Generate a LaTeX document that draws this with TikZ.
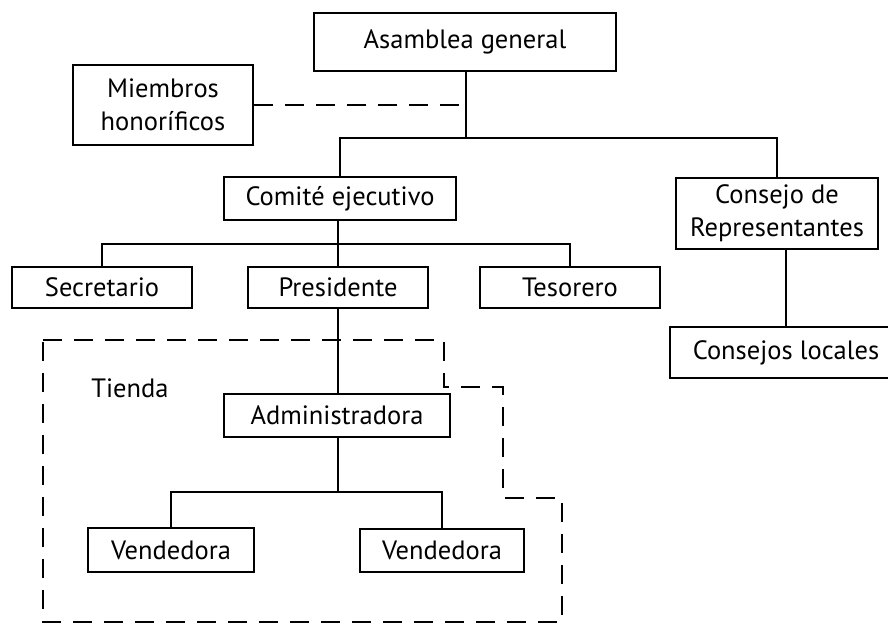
\documentclass[tikz,border=0pt]{standalone}
\usepackage{fontspec}
\setmainfont{PT Sans}
\begin{document}
\begin{tikzpicture}[x=1pt,y=-1pt,
  txt/.style={font=\fontsize{26.5}{33}\selectfont},
  box/.style={draw, line width=2.6pt, rectangle, inner sep=0pt, align=center, txt},
  conn/.style={line width=2.2pt},
  dashconn/.style={line width=2.2pt, dash pattern=on 19pt off 12pt}]
\useasboundingbox (0,0) rectangle (888,624);
\node[box, minimum width=232pt, minimum height=43pt] (com) at (340,198.5) {Comité ejecutivo};
\node[box, minimum width=302pt, minimum height=58pt] (asm) at (465,42) {Asamblea general};
\node[box, minimum width=180pt, minimum height=80pt] (miem) at (163,105) {Miembros\\honoríficos};
\node[box, minimum width=202pt, minimum height=71pt] (cons) at (777,213.5) {Consejo de\\Representantes};
\node[box, minimum width=180pt, minimum height=41pt] (sec) at (102,287.5) {Secretario};
\node[box, minimum width=180pt, minimum height=41pt] (pres) at (338,287.5) {Presidente};
\node[box, minimum width=180pt, minimum height=41pt] (tes) at (570,287.5) {Tesorero};
\node[box, minimum width=232pt, minimum height=51pt] (loc) at (786,352.5) {Consejos locales};
\node[box, minimum width=226pt, minimum height=43pt] (adm) at (337,415.5) {Administradora};
\node[box, minimum width=166pt, minimum height=44pt] (v1) at (171,550) {Vendedora};
\node[box, minimum width=164pt, minimum height=43pt] (v2) at (442,550.5) {Vendedora};
\node[txt, inner sep=0pt] (tienda) at (130,388) {Tienda};

\coordinate (j1) at (466,138);
\coordinate (j2) at (338,244);
\coordinate (j3) at (338,492);

\draw[conn] (asm.south -| j1) -- (j1);
\draw[conn] (com.north) |- (j1) -| (cons.north);
\draw[dashconn] (miem.east) -- (miem.east -| j1);
\draw[conn] (com.south -| j2) -- (j2);
\draw[conn] (sec.north) |- (j2) -| (tes.north);
\draw[conn] (j2) -- (pres.north);
\draw[conn] (pres.south) -- (pres.south |- adm.north);
\draw[conn] (adm.south -| j3) -- (j3);
\draw[conn] (v1.north) |- (j3) -| (v2.north);
\draw[conn] (cons.south -| loc.north) -- (loc.north);

\draw[dashconn] (43,340) -- (444,340) -- (444,387) -- (503,387) -- (503,498)
  -- (562,498) -- (562,622) -- (43,622) -- cycle;
\end{tikzpicture}
\end{document}
